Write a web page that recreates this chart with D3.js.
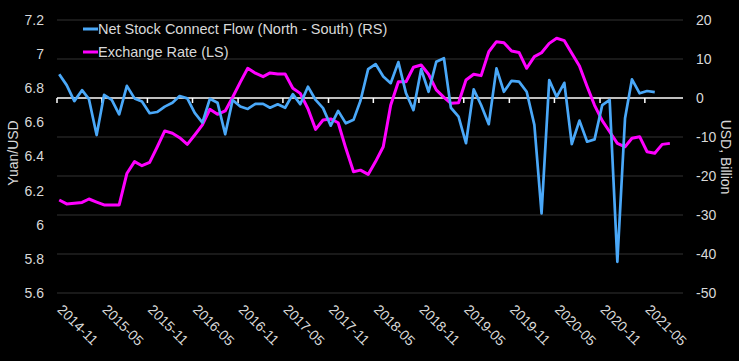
<!DOCTYPE html>
<html>
<head>
<meta charset="utf-8">
<script src="https://cdn.jsdelivr.net/npm/d3@7"></script>
<style>
  body { margin: 0; background: #000; }
  #viz { width: 739px; height: 361px; }
  text { font-family: "Liberation Sans", Arial, sans-serif; fill: #d9d9d9; }
</style>
</head>
<body>
<div id="viz"></div>
<script>
// Monthly series, first month 2014-11
const startMonth = "2014-11";

// Net Stock Connect Flow (North - South), USD bn (right scale)
const netFlow = [6.1, 3.3, -0.8, 2.0, -0.3, -9.5, 0.8, -0.5, -4.2, 3.1,
  -0.1, -0.9, -3.9, -3.6, -2.2, -1.2, 0.5, -0.1, -3.8, -6.3,
  -0.2, -1.2, -9.3, -0.5, -2.2, -2.8, -1.5, -1.5, -2.5, -1.6,
  -2.5, 1.0, -1.6, 2.9, -0.5, -2.6, -7.1, -3.3, -6.5, -5.6,
  -0.7, 7.4, 8.7, 5.5, 3.8, 9.2, 1.2, -3.1, 7.4, 1.6,
  9.3, 10.2, -2.5, -4.8, -11.6, 2.2, -1.8, -6.7, 7.6, 1.6,
  4.4, 4.2, 1.6, -6.9, -29.6, 4.6, 0.3, 3.9, -11.8, -5.8,
  -11.2, -10.6, -1.8, -0.5, -42.0, -5.2, 4.8, 1.2, 1.8, 1.5];

// Exchange rate, Yuan/USD (left scale)
const fxRate = [6.145, 6.122, 6.126, 6.131, 6.151, 6.133, 6.116, 6.116, 6.116, 6.300,
  6.370, 6.346, 6.366, 6.454, 6.550, 6.536, 6.510, 6.471, 6.526, 6.585,
  6.677, 6.647, 6.667, 6.747, 6.836, 6.917, 6.888, 6.868, 6.890, 6.883,
  6.883, 6.800, 6.770, 6.680, 6.559, 6.614, 6.620, 6.598, 6.448, 6.311,
  6.320, 6.295, 6.370, 6.457, 6.700, 6.838, 6.838, 6.923, 6.936, 6.882,
  6.790, 6.747, 6.712, 6.715, 6.848, 6.882, 6.874, 7.014, 7.073, 7.067,
  7.018, 7.010, 6.917, 6.985, 7.008, 7.063, 7.093, 7.079, 7.005, 6.930,
  6.810, 6.700, 6.610, 6.545, 6.477, 6.457, 6.507, 6.516, 6.428, 6.419,
  6.471, 6.477];

const leftTicks = [5.6, 5.8, 6, 6.2, 6.4, 6.6, 6.8, 7, 7.2];
const rightTicks = [-50, -40, -30, -20, -10, 0, 10, 20];
const xTickLabels = ["2014-11", "2015-05", "2015-11", "2016-05", "2016-11", "2017-05", "2017-11",
  "2018-05", "2018-11", "2019-05", "2019-11", "2020-05", "2020-11", "2021-05"];

const w = 739;
const h = 361;
const plotL = 57, plotR = 683, plotT = 20, plotB = 293;

const parseMonth = d3.timeParse("%Y-%m");
const t0 = parseMonth(startMonth);
// points sit a little after the month tick
const dateOf = i => d3.timeDay.offset(d3.timeMonth.offset(t0, i), 9);

const svg = d3.select("#viz").
append("svg").
attr("width", w).
attr("height", h);

const x = d3.scaleTime().
domain([t0, d3.timeDay.offset(parseMonth("2021-10"), 1)]).
range([plotL, plotR]);

const yL = d3.scaleLinear().domain([5.6, 7.2]).range([plotB, plotT]);
const yR = d3.scaleLinear().domain([-50, 20]).range([plotB, plotT]);

// gridlines follow the right scale
svg.append("g").
selectAll("line").
data(rightTicks).
enter().
append("line").
attr("x1", plotL).
attr("x2", plotR).
attr("y1", d => yR(d)).
attr("y2", d => yR(d)).
attr("stroke", d => d === 0 ? "#ffffff" : "#333333").
attr("stroke-width", d => d === 0 ? 1.5 : 1);

// x ticks hang off the zero line
const xTicks = xTickLabels.map(parseMonth);
svg.append("g").
selectAll("line").
data(xTicks).
enter().
append("line").
attr("x1", d => x(d)).
attr("x2", d => x(d)).
attr("y1", yR(0)).
attr("y2", yR(0) + 5).
attr("stroke", "#ffffff").
attr("stroke-width", 1.5);

svg.append("g").
selectAll("text").
data(xTicks).
enter().
append("text").
attr("transform", d => "translate(" + (x(d) + 7) + "," + 303 + ") rotate(45)").
attr("dy", "0.75em").
style("font-size", "14px").
text(d => d3.timeFormat("%Y-%m")(d));

// left axis labels
svg.append("g").
selectAll("text").
data(leftTicks).
enter().
append("text").
attr("x", 44).
attr("y", d => yL(d)).
attr("dy", "0.35em").
attr("text-anchor", "end").
style("font-size", "14px").
text(d => String(+d.toFixed(1)));

// right axis labels
svg.append("g").
selectAll("text").
data(rightTicks).
enter().
append("text").
attr("x", 696).
attr("y", d => yR(d)).
attr("dy", "0.35em").
style("font-size", "14px").
text(d => d);

svg.append("text").
attr("transform", "translate(13,153) rotate(-90)").
attr("dy", "0.35em").
attr("text-anchor", "middle").
style("font-size", "14px").
text("Yuan/USD");

svg.append("text").
attr("transform", "translate(726,157) rotate(90)").
attr("dy", "0.35em").
attr("text-anchor", "middle").
style("font-size", "14px").
text("USD, Billion");

// lines
const fxLine = d3.line().
x((d, i) => x(dateOf(i))).
y(d => yL(d));

const flowLine = d3.line().
x((d, i) => x(dateOf(i))).
y(d => yR(d));

svg.append("path").
datum(fxRate).
attr("d", fxLine).
attr("fill", "none").
attr("stroke", "#ff00ff").
attr("stroke-width", 3).
attr("stroke-linejoin", "round");

svg.append("path").
datum(netFlow).
attr("d", flowLine).
attr("fill", "none").
attr("stroke", "#4aa8f8").
attr("stroke-width", 2.7).
attr("stroke-linejoin", "round");

// legend
const legend = [
  { label: "Net Stock Connect Flow (North - South) (RS)", color: "#4aa8f8", y: 29 },
  { label: "Exchange Rate (LS)", color: "#ff00ff", y: 52 }];

const lg = svg.append("g").attr("id", "legend");
lg.selectAll("line").
data(legend).
enter().
append("line").
attr("x1", 83).
attr("x2", 98).
attr("y1", d => d.y).
attr("y2", d => d.y).
attr("stroke", d => d.color).
attr("stroke-width", 3);

lg.selectAll("text").
data(legend).
enter().
append("text").
attr("x", 98).
attr("y", d => d.y).
attr("dy", "0.35em").
style("font-size", "14.5px").
text(d => d.label);
</script>
</body>
</html>
